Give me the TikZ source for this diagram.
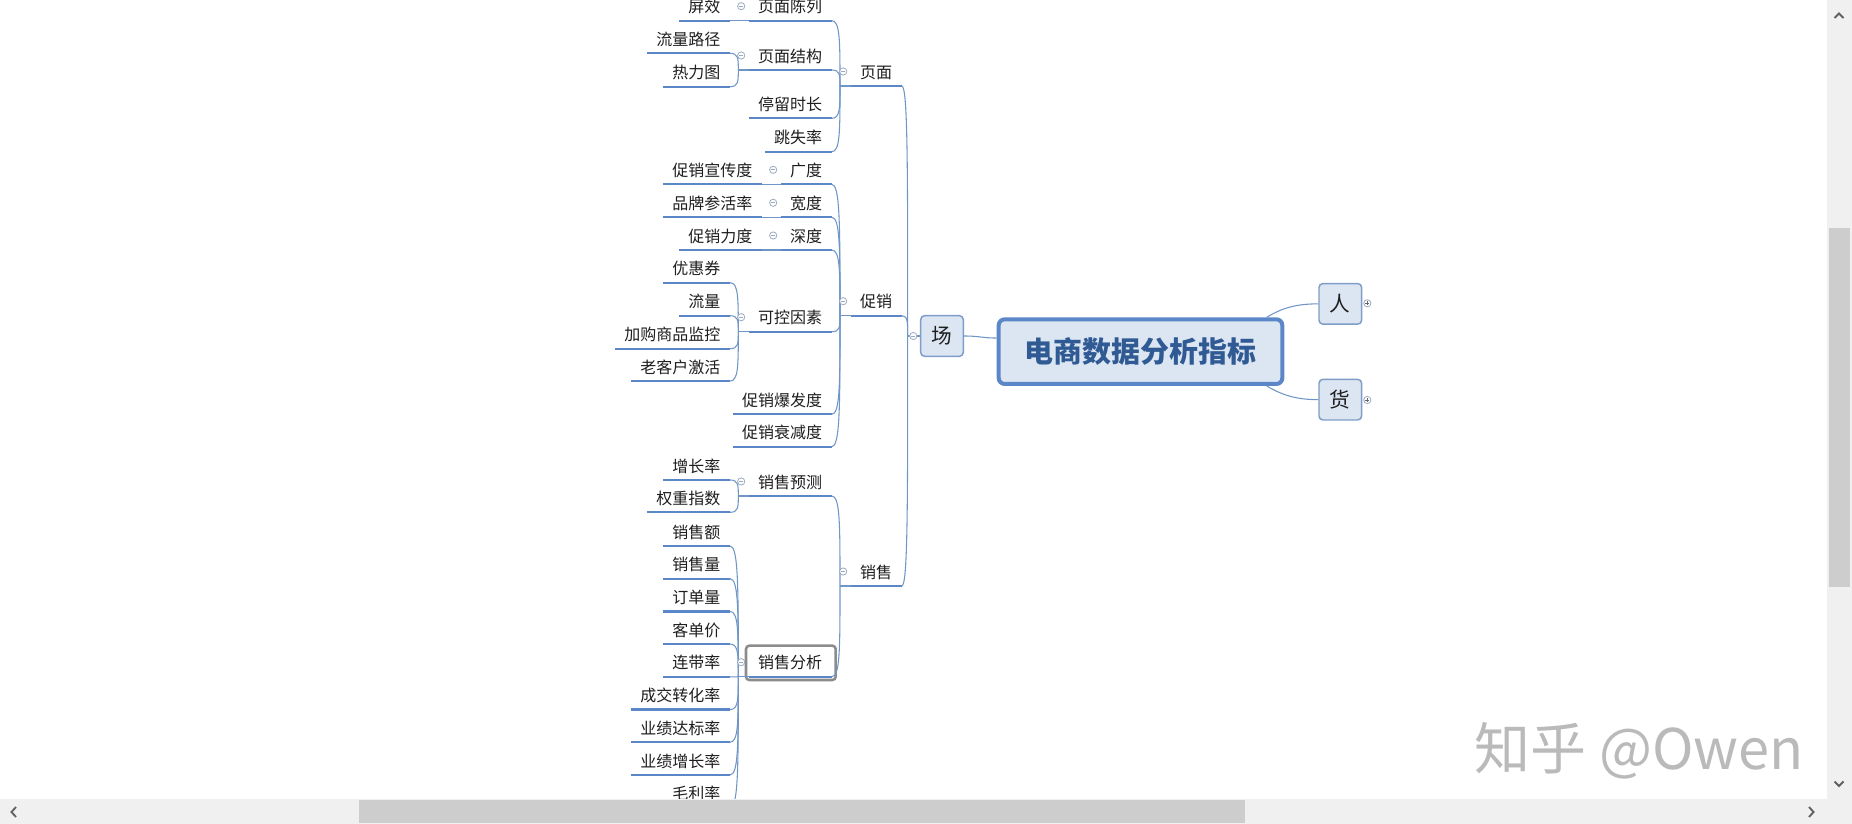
\documentclass[tikz,border=0pt]{standalone}
\usepackage{fontspec}
\setmainfont{Noto Sans CJK SC}
\usetikzlibrary{calc}
\definecolor{ulc}{HTML}{5B87C8}
\definecolor{cnc}{HTML}{7096C8}
\definecolor{boxfill}{HTML}{DCE6F2}
\definecolor{boxline}{HTML}{7E9DC8}
\definecolor{titlec}{HTML}{2F5A94}
\definecolor{ctlc}{HTML}{9AAABF}
\definecolor{sbbg}{HTML}{F0F0F0}
\definecolor{sbth}{HTML}{CDCDCD}
\definecolor{sbar}{HTML}{606060}
\definecolor{wmc}{HTML}{BABABA}
\definecolor{selc}{HTML}{8C8C8C}
\definecolor{txt}{HTML}{1E1E1E}
\tikzset{
  lbl/.style={anchor=south east, font=\fontsize{12}{14}\selectfont, text=txt,
    inner xsep=7.2pt, inner ysep=5.9pt, text height=9pt, text depth=0pt, outer sep=0pt},
  uline/.style={draw=ulc, line width=1.7pt},
  conn/.style={draw=cnc, line width=0.8pt},
  colmark/.style={circle, draw=ctlc, fill=white, line width=0.6pt, minimum size=5.4pt, inner sep=0pt,
    path picture={\draw[ctlc, line width=0.6pt] ([xshift=1.2pt]path picture bounding box.west) -- ([xshift=-1.2pt]path picture bounding box.east);}},
  expmark/.style={circle, draw=ctlc, fill=white, line width=0.6pt, minimum size=5.4pt, inner sep=0pt,
    path picture={\draw[black!60, line width=0.6pt] ([xshift=1.2pt]path picture bounding box.west) -- ([xshift=-1.2pt]path picture bounding box.east)
      ([yshift=-1.2pt]path picture bounding box.north) -- ([yshift=1.2pt]path picture bounding box.south);}},
  mbox/.style={draw=boxline, fill=boxfill, line width=1.1pt, rounded corners=3pt, minimum width=32pt,
    minimum height=30.5pt, inner sep=0pt, font=\fontsize{15.5}{18}\selectfont, text=txt},
  titlebox/.style={draw=ulc, fill=boxfill, line width=3pt, rounded corners=4.5pt, minimum width=212.7pt,
    minimum height=48.5pt, inner sep=0pt, font=\fontsize{21.7}{26}\selectfont\bfseries, text=titlec},
  selbox/.style={draw=selc, line width=1.9pt, rounded corners=2.5pt},
  wm/.style={font=\fontsize{42}{48}\selectfont, text=wmc, inner sep=0pt},
  sbchev/.style={draw=sbar, line width=1.4pt},
}
\newcommand\mmlabel[4]{\node[lbl] (#1) at (#2,#3) {#4}; \draw[uline] (#1.south west) -- (#1.south east);}
\newcommand\mmbracket[2]{\path ($(#1.south east)!0.3!(#2)$) coordinate (mmtmp);
  \draw[conn] (#1.south east) .. controls (#2 |- #1.south east) and (#2 |- mmtmp) .. (#2);}
\newcommand\mmcol[2]{\node[colmark] (#1) at ($(#2.south west)+(-7.3,-14.5)$) {};}

\begin{document}
\begin{tikzpicture}[x=0.75pt,y=-0.75pt]
\useasboundingbox (0,0) rectangle (1852,824);
\clip (0,0) rectangle (1852,824);
\fill[white] (0,0) rectangle (1852,824);

% ---------- central and main boxes ----------
\node[titlebox] (title) at (1140.5,351.65) {电商数据分析指标};
\node[mbox] (chang) at (942,336) {场};
\node[mbox] (ren) at (1340.3,303.85) {人};
\node[mbox] (huo) at (1340.3,399.65) {货};

\draw[conn] (chang.east) .. controls (980,336) and (982,338) .. ($(title.west)+(0,-13.6)$);
\draw[conn] ($(title.north east)+(-17.6,0)$) .. controls (1282,308) and (1296,303.85) .. (ren.west);
\draw[conn] ($(title.south east)+(-17.6,0)$) .. controls (1282,395) and (1296,399.65) .. (huo.west);
\node[expmark] (eren) at (1367.3,303.3) {};
\node[expmark] (ehuo) at (1367.3,400) {};

% ---------- level 1 ----------
\mmlabel{ym}{901.7}{86}{页面}
\mmlabel{cx}{901.7}{315.7}{促销}
\mmlabel{xs}{901.7}{586}{销售}
\coordinate (jc) at (907.7,336);
\mmbracket{ym}{jc}
\mmbracket{cx}{jc}
\mmbracket{xs}{jc}
\draw[conn] (jc) -- (chang.west);
\node[colmark] (cchang) at (913.3,336) {};

% ---------- level 2 ----------
\mmlabel{clx}{831.7}{20.7}{页面陈列}
\mmlabel{jg}{831.7}{70}{页面结构}
\mmlabel{tl}{831.7}{118.3}{停留时长}
\mmlabel{ts}{831.7}{151.7}{跳失率}
\mmlabel{gd}{831.7}{184.3}{广度}
\mmlabel{kd}{831.7}{217.3}{宽度}
\mmlabel{sd}{831.7}{250}{深度}
\mmlabel{kk}{831.7}{331.7}{可控因素}
\mmlabel{bf}{831.7}{414.3}{促销爆发度}
\mmlabel{sj}{831.7}{446.7}{促销衰减度}
\mmlabel{yc}{831.7}{496}{销售预测}
\draw[selbox] (746,645.7) rectangle (835.7,680);
\mmlabel{fx}{831.7}{676.7}{销售分析}

\coordinate (jym) at (840,86);
\coordinate (jcx) at (840,315.7);
\coordinate (jxs) at (840,586);
\foreach \n in {clx,jg,tl,ts} {\mmbracket{\n}{jym}}
\foreach \n in {gd,kd,sd,kk,bf,sj} {\mmbracket{\n}{jcx}}
\foreach \n in {yc,fx} {\mmbracket{\n}{jxs}}
\draw[conn] (jym) -- (ym.south west);
\draw[conn] (jcx) -- (cx.south west);
\draw[conn] (jxs) -- (xs.south west);
\mmcol{cym}{ym}
\mmcol{ccx}{cx}
\mmcol{cxs}{xs}

% ---------- leaves ----------
\mmlabel{px}{730}{20.7}{屏效}
\mmlabel{lj}{730}{53.3}{流量路径}
\mmlabel{rl}{730}{86.7}{热力图}
\mmlabel{xc}{762}{184.3}{促销宣传度}
\mmlabel{pp}{762}{217.3}{品牌参活率}
\mmlabel{ld}{762}{250}{促销力度}
\mmlabel{yh}{730}{282.7}{优惠券}
\mmlabel{ll}{730}{315.7}{流量}
\mmlabel{jgjk}{730}{348.7}{加购商品监控}
\mmlabel{lkh}{730}{381}{老客户激活}
\mmlabel{zz}{730}{480}{增长率}
\mmlabel{qz}{730}{512.3}{权重指数}
\mmlabel{xse}{730}{546}{销售额}
\mmlabel{xsl}{730}{578.7}{销售量}
\mmlabel{ddl}{730}{611.4}{订单量}
\mmlabel{kdj}{730}{644.1}{客单价}
\mmlabel{ldl}{730}{676.8}{连带率}
\mmlabel{cj}{730}{709.5}{成交转化率}
\mmlabel{dbl}{730}{742.2}{业绩达标率}
\mmlabel{zzl}{730}{774.9}{业绩增长率}
\mmlabel{mll}{730}{807.6}{毛利率}

\draw[conn] (px.south east) -- (clx.south west);
\draw[conn] (xc.south east) -- (gd.south west);
\draw[conn] (pp.south east) -- (kd.south west);
\draw[conn] (ld.south east) -- (sd.south west);

\coordinate (jjg) at (738.3,70);
\coordinate (jkk) at (738.3,331.7);
\coordinate (jyc) at (738.3,496);
\coordinate (jfx) at (738.3,676.7);
\foreach \n in {lj,rl} {\mmbracket{\n}{jjg}}
\foreach \n in {yh,ll,jgjk,lkh} {\mmbracket{\n}{jkk}}
\foreach \n in {zz,qz} {\mmbracket{\n}{jyc}}
\foreach \n in {xse,xsl,ddl,kdj,ldl,cj,dbl,zzl,mll} {\mmbracket{\n}{jfx}}
\draw[conn] (jjg) -- (jg.south west);
\draw[conn] (jkk) -- (kk.south west);
\draw[conn] (jyc) -- (yc.south west);
\draw[conn] (jfx) -- (fx.south west);

\mmcol{cclx}{clx}
\mmcol{cjg}{jg}
\mmcol{cgd}{gd}
\mmcol{ckd}{kd}
\mmcol{csd}{sd}
\mmcol{ckk}{kk}
\mmcol{cyc}{yc}
\mmcol{cfx}{fx}

% ---------- watermark ----------
\node[wm] (wmark) at (1639,751) {知乎 @Owen};

% ---------- scrollbars ----------
\fill[sbbg] (0,799) rectangle (1852,824);
\fill[sbbg] (1827,0) rectangle (1852,824);
\fill[sbth] (359,800) rectangle (1245,823);
\fill[sbth] (1829,228) rectangle (1850,587);
\draw[sbchev] (16,807) -- (11.5,812) -- (16,817);
\draw[sbchev] (1809,807) -- (1813.5,812) -- (1809,817);
\draw[sbchev] (1834.5,18) -- (1839,13.5) -- (1843.5,18);
\draw[sbchev] (1834.5,781.5) -- (1839,786) -- (1843.5,781.5);
\end{tikzpicture}
\end{document}
